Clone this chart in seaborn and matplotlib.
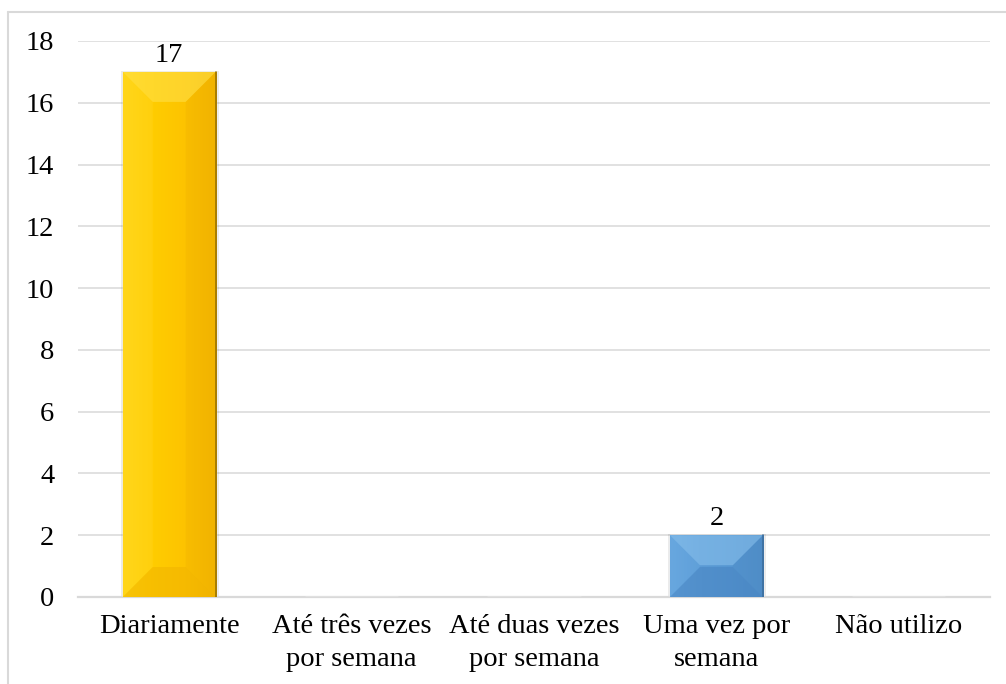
import numpy as np
import pandas as pd
import matplotlib
matplotlib.use("Agg")
import matplotlib.pyplot as plt
from matplotlib.patches import Polygon
from matplotlib.lines import Line2D
from matplotlib.colors import LinearSegmentedColormap
import seaborn as sns

# Frequency of use
categories = ["Diariamente", "Até três vezes\npor semana", "Até duas vezes\npor semana",
              "Uma vez por\nsemana", "Não utilizo"]
counts = [17, 0, 0, 2, 0]
y_ticks = [0, 2, 4, 6, 8, 10, 12, 14, 16, 18]

GOLD = "#FFC800"
BLUE = "#5B9BD5"
bar_colors = [GOLD, BLUE, BLUE, BLUE, BLUE]

FS = 20.5

sns.set_theme(style="white")
plt.rcParams["font.family"] = ["Liberation Serif", "DejaVu Serif"]

df = pd.DataFrame({"categoria": categories, "n": counts})

fig = plt.figure(figsize=(10.06, 6.84), dpi=100)
ax = fig.add_axes([78 / 1006, 1 - 597 / 684, (990 - 78) / 1006, (597 - 41) / 684])

sns.barplot(data=df, x="categoria", y="n", hue="categoria", palette=bar_colors,
            width=0.51, legend=False, ax=ax, zorder=3, saturation=1)

ax.set_ylim(0, 18)
ax.set_xlim(-0.5, len(categories) - 0.5)
ax.set_yticks(y_ticks)
ax.set_xticks(range(len(categories)))
ax.set_xticklabels(categories)
ax.yaxis.grid(True, color="#D9D9D9", linewidth=1.1, zorder=0)
ax.set_axisbelow(True)
ax.set_xlabel("")
ax.set_ylabel("")
for side in ["left", "right", "top"]:
    ax.spines[side].set_visible(False)
ax.spines["bottom"].set_color("#D9D9D9")
ax.spines["bottom"].set_linewidth(1.6)

ax.tick_params(axis="y", length=0, pad=17, labelsize=FS, labelcolor="black")
ax.tick_params(axis="x", which="major", length=0, pad=12, labelsize=FS, labelcolor="black")
ax.set_xticks(np.arange(-0.5, len(categories), 1.0), minor=True)
ax.tick_params(axis="x", which="minor", length=6, width=1.6, color="#D9D9D9", direction="out")

fig.canvas.draw()
for lab in ax.get_xticklabels():
    lab.set_linespacing(1.45)

# Bevel styling for each bar
styles = {
    GOLD: dict(grad=["#FFD614", "#FFCC00", "#FDC300", "#F2B400"],
               top="#FFE24E", bottom="#F0B200", left="#FFD82A", right="#EFB000",
               edge="#8E6A00"),
    BLUE: dict(grad=["#66A6DE", "#5B9BD5", "#5596D1", "#4F8DC7"],
               top="#8CC3EE", bottom="#4884C2", left="#6CABE3", right="#4F8CC6",
               edge="#3A6A98"),
}
to_px = ax.transData
to_data = ax.transData.inverted()
bevel_px = 30

for patch, color in zip(ax.patches, bar_colors):
    h = patch.get_height()
    if h <= 0:
        continue
    st = styles[color]
    x0, y0 = patch.get_x(), patch.get_y()
    w = patch.get_width()
    (px0, py0) = to_px.transform((x0, y0))
    (px1, py1) = to_px.transform((x0 + w, y0 + h))
    d = min(bevel_px, (py1 - py0) / 2, (px1 - px0) / 2)

    def pt(px, py):
        return to_data.transform((px, py))

    # soft shadow
    shadow = Polygon([pt(px0 - 2, py0), pt(px1 + 3, py0), pt(px1 + 3, py1 + 1), pt(px0 - 2, py1 + 1)],
                     closed=True, facecolor="#000000", alpha=0.08, edgecolor="none", zorder=2.5)
    ax.add_patch(shadow)

    # horizontal gradient body
    cmap = LinearSegmentedColormap.from_list("g", st["grad"])
    grad = np.linspace(0, 1, 256).reshape(1, -1)
    im = ax.imshow(grad, cmap=cmap, aspect="auto", extent=(x0, x0 + w, y0, y0 + h),
                   zorder=3.1, interpolation="bilinear")
    im.set_clip_path(patch)

    a, b = pt(px0, py1), pt(px1, py1)
    c, e = pt(px1 - d, py1 - d), pt(px0 + d, py1 - d)
    ax.add_patch(Polygon([a, b, c, e], closed=True, facecolor=st["top"], edgecolor="none",
                         alpha=0.55, zorder=3.2))
    a, b = pt(px0, py0), pt(px1, py0)
    c, e = pt(px1 - d, py0 + d), pt(px0 + d, py0 + d)
    ax.add_patch(Polygon([a, b, c, e], closed=True, facecolor=st["bottom"], edgecolor="none",
                         alpha=0.5, zorder=3.2))
    ax.add_patch(Polygon([pt(px0, py0), pt(px0 + d, py0 + d), pt(px0 + d, py1 - d), pt(px0, py1)],
                         closed=True, facecolor=st["left"], edgecolor="none", alpha=0.3, zorder=3.2))
    ax.add_patch(Polygon([pt(px1, py0), pt(px1 - d, py0 + d), pt(px1 - d, py1 - d), pt(px1, py1)],
                         closed=True, facecolor=st["right"], edgecolor="none", alpha=0.3, zorder=3.2))
    # dark right edge
    ax.add_line(Line2D([x0 + w, x0 + w], [y0, y0 + h], color=st["edge"], linewidth=1.3,
                       alpha=0.8, zorder=3.3))

    ax.annotate(f"{h:g}", xy=(x0 + w / 2, y0 + h), xytext=(0, 3), textcoords="offset points",
                ha="center", va="bottom", fontsize=FS, color="black", zorder=4)

# chart frame
fig.add_artist(Line2D([8 / 1006, 8 / 1006], [0, 1 - 12 / 684], color="#D9D9D9", linewidth=1.5,
                      transform=fig.transFigure))
fig.add_artist(Line2D([8 / 1006, 1], [1 - 12 / 684, 1 - 12 / 684], color="#D9D9D9", linewidth=1.5,
                      transform=fig.transFigure))

fig.savefig("out.png", dpi=100)
